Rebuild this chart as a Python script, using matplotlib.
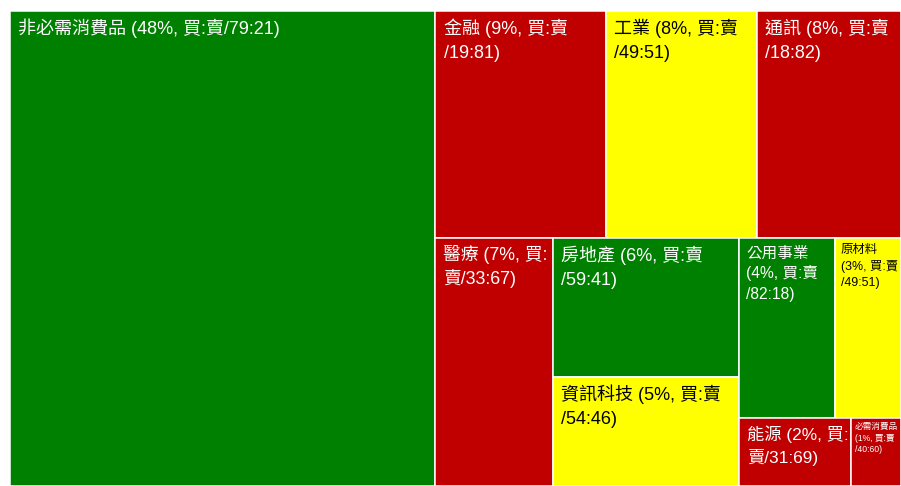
#===============================================================================
# treemap of sectors: share of market, buy:sell ratio
#===============================================================================
import re
import matplotlib
matplotlib.use('Agg')
import matplotlib.pyplot as plt
from   matplotlib.patches      import Rectangle
from   matplotlib.font_manager import FontProperties
#===============================================================================
names   = ['非必需消費品', '金融', '工業', '通訊', '醫療', '房地產',
           '資訊科技', '公用事業', '原材料', '能源', '必需消費品']
weights = [47.7, 9.1, 8.1, 7.7, 6.9, 6.1, 4.8, 4.1, 2.8, 1.8, 0.8]   # area
pct     = [48, 9, 8, 8, 7, 6, 5, 4, 3, 2, 1]                           # label %
buy     = [79, 19, 49, 18, 33, 59, 54, 82, 49, 31, 40]
sell    = [21, 81, 51, 82, 67, 41, 46, 18, 51, 69, 60]

# how many items go in each strip of the layout (direction = shorter side)
strip_sizes = [1, 3, 1, 2, 2, 1, 1]

GREEN  = '#008000'
RED    = '#c00000'
YELLOW = '#ffff00'
FAMILY = ['Liberation Sans', 'Noto Sans CJK TC', 'DejaVu Sans']
DPI    = 100
#===============================================================================
def sector_colour( b, s ):
    if abs(b - s) <= 10 : return YELLOW
    if b > s            : return GREEN
    return RED
#===============================================================================
def layout( vals, x, y, w, h, strips ):
    rects = []
    i = 0
    for n in strips:
        chunk = vals[i:i+n]
        s     = sum(chunk)
        rest  = sum(vals[i:])
        if w >= h:
            sw = w * s / rest
            yy = y
            for v in chunk:
                hh = h * v / s
                rects.append( (x, yy, sw, hh) )
                yy = yy + hh
            x = x + sw
            w = w - sw
        else:
            sh = h * s / rest
            xx = x
            for v in chunk:
                ww = w * v / s
                rects.append( (xx, y, ww, sh) )
                xx = xx + ww
            y = y + sh
            h = h - sh
        i = i + n
    return rects
#===============================================================================
fig = plt.figure(figsize=(9.01, 4.86), dpi=DPI)
ax  = fig.add_axes([10/901., 0.0, 891/901., 475/486.])
pos = ax.get_position()
W   = fig.get_figwidth()  * DPI * pos.width
H   = fig.get_figheight() * DPI * pos.height
ax.set_xlim(0, W)
ax.set_ylim(H, 0)
ax.axis('off')

renderer = fig.canvas.get_renderer()

def text_w( s, prop ):
    w, h, d = renderer.get_text_width_height_descent(s, prop, ismath=False)
    return w

def wrap( tokens, prop, avail ):
    lines = []
    cur = ''
    for t in tokens:
        cand = cur + t
        if cur.strip() and text_w(cand.rstrip(), prop) > avail:
            lines.append(cur.rstrip())
            cur = t.lstrip()
        else:
            cur = cand
    lines.append(cur.rstrip())
    return lines
#===============================================================================
rects = layout(weights, 0.0, 0.0, W, H, strip_sizes)

for k in range(len(names)):
    x, y, w, h = rects[k]
    fc = sector_colour(buy[k], sell[k])
    ax.add_patch( Rectangle((x, y), w, h, facecolor=fc,
                            edgecolor='white', linewidth=1.1) )

    rest   = " (%d%%, 買:賣/%d:%d)" % (pct[k], buy[k], sell[k])
    tokens = [names[k]] + re.findall(r'[\u4e00-\u9fff][:,)]*|\s|[^\s\u4e00-\u9fff]+', rest)

    fs = min(13.0, 4.0 + 0.075 * w)
    while fs > 3.0:
        px    = fs * DPI / 72.
        prop  = FontProperties(family=FAMILY, size=fs)
        padl  = 0.45 * px
        padr  = 0.10 * px
        lines = wrap(tokens, prop, w - padl - padr)
        widest = max( text_w(l, prop) for l in lines )
        tall   = (1.28 + 1.33 * (len(lines) - 1) + 0.3) * px
        if widest <= w - padl - padr and tall <= h:
            break
        fs = fs - 0.25

    tc = 'black' if fc == YELLOW else 'white'
    for i, line in enumerate(lines):
        ax.text(x + padl, y + 1.28 * px + i * 1.33 * px, line,
                fontproperties=prop, color=tc, ha='left', va='baseline')
#===============================================================================
fig.savefig('out.png', dpi=DPI)
